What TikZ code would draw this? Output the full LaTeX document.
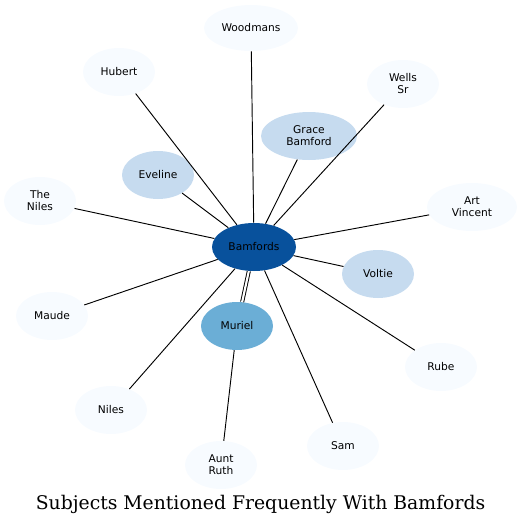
\documentclass[tikz,border=0pt]{standalone}
\usepackage{fontspec}
\setmainfont{DejaVu Sans}
\newfontfamily\titlefont{DejaVu Serif}
\usetikzlibrary{shapes.geometric}
\definecolor{c0}{HTML}{F7FBFF}
\definecolor{c1}{HTML}{C6DBEF}
\definecolor{c2}{HTML}{6BAED6}
\definecolor{c3}{HTML}{08519C}
\begin{document}
\begin{tikzpicture}[x=0.75pt,y=-0.75pt,
  nd/.style={ellipse,draw=none,minimum width=#1*0.75pt,minimum height=36pt,inner sep=0pt,font=\fontsize{8}{9}\selectfont,align=center},
  nd/.default=72,
  edge/.style={draw=black,line width=0.7pt}]
\useasboundingbox (0,0) rectangle (522,526);
\node[nd=84,fill=c3] (bam) at (254,247) {Bamfords};
\node[nd,fill=c2] (mur) at (237,326) {Muriel};
\node[nd,fill=c1] (vol) at (378,274) {Voltie};
\node[nd=96,fill=c1] (gra) at (309,136) {Grace\\Bamford};
\node[nd,fill=c1] (eve) at (158,175) {Eveline};
\node[nd=94,fill=c0,minimum height=34.5pt] (woo) at (251,28) {Woodmans};
\node[nd,fill=c0] (hub) at (119,72) {Hubert};
\node[nd,fill=c0] (wel) at (403,84) {Wells\\Sr};
\node[nd,fill=c0] (the) at (40,201) {The\\Niles};
\node[nd=90,fill=c0] (art) at (472,207) {Art\\Vincent};
\node[nd,fill=c0] (mau) at (52,316) {Maude};
\node[nd,fill=c0] (rub) at (441,367) {Rube};
\node[nd,fill=c0] (nil) at (111,410) {Niles};
\node[nd,fill=c0] (sam) at (343,446) {Sam};
\node[nd,fill=c0] (aun) at (221,465) {Aunt\\Ruth};
\node[font=\titlefont\fontsize{14.1}{16}\selectfont] (title) at (260.5,504) {Subjects Mentioned Frequently With Bamfords};
\draw[edge,double,double distance=1.6pt] (bam) -- (mur);
\foreach \n in {vol,gra,eve,woo,hub,wel,the,art,mau,rub,nil,sam}
  \draw[edge] (bam) -- (\n);
\draw[edge] (mur) -- (aun);
\end{tikzpicture}
\end{document}
